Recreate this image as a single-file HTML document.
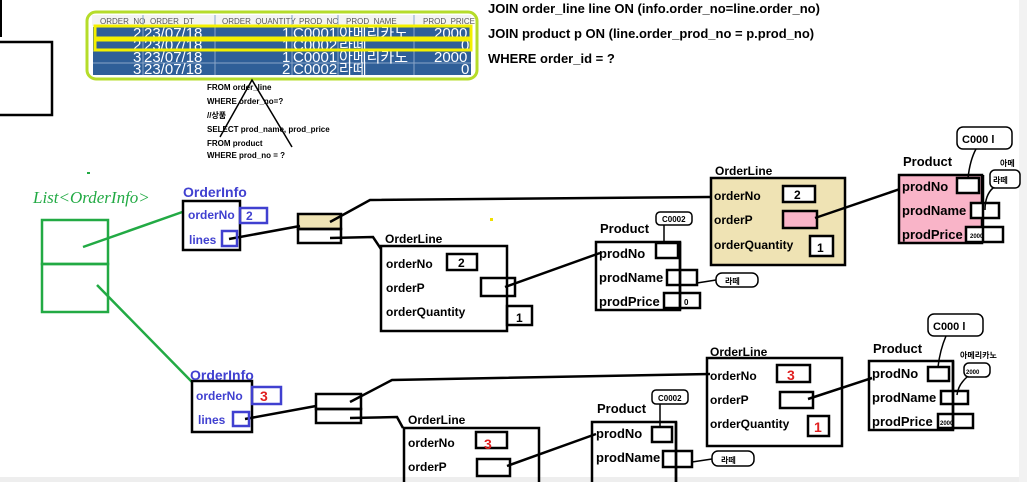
<!DOCTYPE html>
<html><head><meta charset="utf-8"><style>
html,body{margin:0;padding:0;background:#fff;width:1027px;height:482px;overflow:hidden}
svg{display:block}
text{font-family:"Liberation Sans","Noto Sans CJK KR",sans-serif}
.b{font-weight:bold;font-size:13px;fill:#000}
.b2{font-weight:bold;font-size:12px;fill:#000}
.bl{font-weight:bold;font-size:12px;fill:#4040d0}
.s{font-weight:bold;font-size:8px;fill:#000}
.h{font-size:8px;fill:#555}
.r{font-size:15px;fill:#fff;font-family:"Liberation Mono","Noto Sans CJK KR",monospace}
</style></head><body>
<svg width="1027" height="482" viewBox="0 0 1027 482" xmlns="http://www.w3.org/2000/svg">
<rect x="1019" y="0" width="8" height="482" fill="#f2f2f2"/>
<rect x="0" y="477" width="1019" height="5" fill="#eeeeee"/>
<line x1="1" y1="0" x2="1" y2="37" stroke="#000" stroke-width="2"/>
<rect x="-5" y="42" width="57" height="73" fill="none" stroke="#000" stroke-width="2.5"/>

<!-- table -->
<rect x="87" y="12" width="390" height="67" rx="9" fill="#fff" stroke="#b5dc2a" stroke-width="3"/>
<rect x="92" y="15" width="379" height="11" fill="#f3f3f3"/>
<g class="h"><text x="100" y="24">ORDER_NO</text><text x="150" y="24">ORDER_DT</text><text x="222" y="24">ORDER_QUANTITY</text><text x="299" y="24">PROD_NO</text><text x="346" y="24">PROD_NAME</text><text x="423" y="24">PROD_PRICE</text></g>
<rect x="93" y="27" width="378" height="48" fill="#2f5f98"/>
<g stroke="#8aa6c8" stroke-width="1"><line x1="143" y1="15" x2="143" y2="75"/><line x1="215" y1="15" x2="215" y2="75"/><line x1="292" y1="15" x2="292" y2="75"/><line x1="338" y1="15" x2="338" y2="75"/><line x1="414" y1="15" x2="414" y2="75"/><line x1="93" y1="51" x2="471" y2="51"/><line x1="93" y1="63" x2="471" y2="63"/></g>
<g class="r"><text x="133" y="38">2</text><text x="144" y="38">23/07/18</text><text x="282" y="38">1</text><text x="293" y="38">C0001</text><text x="339" y="38">아메리카노</text><text x="434" y="38">2000</text>
<text x="133" y="50">2</text><text x="144" y="50">23/07/18</text><text x="282" y="50">1</text><text x="293" y="50">C0002</text><text x="339" y="50">라떼</text><text x="461" y="50">0</text>
<text x="133" y="62">3</text><text x="144" y="62">23/07/18</text><text x="282" y="62">1</text><text x="293" y="62">C0001</text><text x="339" y="62">아메리카노</text><text x="434" y="62">2000</text>
<text x="133" y="74">3</text><text x="144" y="74">23/07/18</text><text x="282" y="74">2</text><text x="293" y="74">C0002</text><text x="339" y="74">라떼</text><text x="461" y="74">0</text></g>
<rect x="95" y="26" width="376" height="12" fill="none" stroke="#f4f000" stroke-width="3"/>
<rect x="95" y="40" width="376" height="10" fill="none" stroke="#f4f000" stroke-width="3"/>

<g class="b"><text x="488" y="13">JOIN order_line line ON (info.order_no=line.order_no)</text><text x="488" y="38">JOIN product p ON (line.order_prod_no = p.prod_no)</text><text x="488" y="63">WHERE order_id = ?</text></g>
<g class="s"><text x="207" y="90">FROM order_line</text><text x="207" y="104">WHERE order_no=?</text><text x="207" y="118">//상품</text><text x="207" y="132">SELECT prod_name, prod_price</text><text x="207" y="146">FROM product</text><text x="207" y="158">WHERE prod_no = ?</text></g>
<path d="M220 137 L252 80 L292 147" fill="none" stroke="#000" stroke-width="1.5"/>

<!-- green list -->
<text x="33" y="203" style="font-size:17px;fill:#22aa44;font-style:italic;font-family:'Liberation Serif',serif">List&lt;OrderInfo&gt;</text>
<rect x="87" y="172" width="3" height="2" fill="#22aa44"/>
<rect x="42" y="220" width="66" height="44" fill="none" stroke="#22aa44" stroke-width="2.5"/>
<rect x="42" y="264" width="66" height="48" fill="none" stroke="#22aa44" stroke-width="2.5"/>
<line x1="83" y1="247" x2="188" y2="210" stroke="#22aa44" stroke-width="2.5"/>
<line x1="97" y1="285" x2="192" y2="382" stroke="#22aa44" stroke-width="2.5"/>

<g fill="none" stroke="#000" stroke-width="2.5">
<rect x="183" y="201" width="57" height="49" fill="#fff"/>
<rect x="298" y="214" width="43" height="15" fill="#efe3b4"/><rect x="298" y="229" width="43" height="14"/>
<polyline points="229,239 300,226"/><polyline points="330,222 370,200 710,197"/><polyline points="330,238 373,237 381,249"/>
<rect x="381" y="246" width="126" height="85"/>
<rect x="447" y="254" width="30" height="16"/><rect x="481" y="278" width="34" height="18"/><rect x="507" y="306" width="25" height="19"/>
<line x1="505" y1="287" x2="600" y2="253"/>
<rect x="596" y="242" width="84" height="68"/>
<rect x="656" y="243" width="22" height="15"/><rect x="667" y="270" width="30" height="15"/><rect x="664" y="293" width="36" height="15"/>
<line x1="680" y1="242" x2="680" y2="310"/>
<rect x="711" y="178" width="134" height="87" fill="#efe3b4"/>
<rect x="783" y="186" width="32" height="16" fill="#fff"/><rect x="783" y="211" width="34" height="17" fill="#f9b4c8"/><rect x="810" y="236" width="23" height="20" fill="#fff"/>
<line x1="815" y1="218" x2="900" y2="189"/>
<rect x="899" y="175" width="83" height="68" fill="#f9b4c8"/>
<rect x="957" y="178" width="22" height="15" fill="#fff"/><rect x="971" y="203" width="28" height="15" fill="#fff"/><rect x="966" y="227" width="37" height="15" fill="#fff"/>
<line x1="983" y1="175" x2="983" y2="243"/>

<rect x="192" y="381" width="60" height="51"/>
<rect x="316" y="394" width="45" height="15"/><rect x="316" y="409" width="45" height="14"/>
<polyline points="245,419 316,406"/><polyline points="350,402 392,380 710,374"/><polyline points="350,418 397,417 403,428"/>
<rect x="404" y="428" width="135" height="60"/>
<rect x="476" y="432" width="31" height="16"/><rect x="477" y="459" width="33" height="17"/>
<line x1="507" y1="466" x2="596" y2="434"/>
<rect x="592" y="422" width="84" height="70"/>
<rect x="652" y="427" width="20" height="15"/><rect x="663" y="451" width="29" height="16"/>
<line x1="676" y1="422" x2="676" y2="482"/>
<rect x="707" y="358" width="135" height="88"/>
<rect x="777" y="365" width="33" height="17"/><rect x="780" y="392" width="33" height="16"/><rect x="808" y="416" width="21" height="20"/>
<line x1="808" y1="399" x2="872" y2="378"/>
<rect x="869" y="361" width="84" height="69"/>
<rect x="928" y="367" width="21" height="14"/><rect x="941" y="391" width="27" height="13"/><rect x="938" y="414" width="35" height="14"/>
<line x1="953" y1="361" x2="953" y2="430"/>
</g>
<g fill="none" stroke="#4040d0" stroke-width="2.5">
<rect x="240" y="208" width="27" height="15"/><rect x="222" y="231" width="15" height="15"/>
<rect x="252" y="387" width="29" height="17"/><rect x="233" y="412" width="16" height="14"/>
</g>

<g fill="#fff" stroke="#000" stroke-width="1.5">
<rect x="656" y="212" width="36" height="13" rx="4"/><rect x="716" y="273" width="42" height="14" rx="6"/>
<rect x="957" y="127" width="55" height="22" rx="6"/><rect x="990" y="170" width="30" height="18" rx="5"/>
<rect x="652" y="390" width="36" height="14" rx="4"/><rect x="712" y="451" width="42" height="15" rx="6"/>
<rect x="928" y="314" width="55" height="22" rx="6"/><rect x="964" y="363" width="26" height="14" rx="5"/>
</g>
<g stroke="#000" stroke-width="1.5" fill="none">
<line x1="664" y1="225" x2="664" y2="243"/><line x1="697" y1="283" x2="716" y2="280"/>
<path d="M976 149 Q970 160 968 178"/><path d="M993 188 Q985 195 985 210"/>
<line x1="660" y1="404" x2="660" y2="427"/><line x1="692" y1="462" x2="712" y2="459"/>
<path d="M946 336 Q940 350 938 367"/><path d="M967 377 Q958 385 957 395"/>
</g>
<g style="font-size:8px;font-weight:bold" fill="#000"><text x="662" y="222">C0002</text><text x="725" y="284">라떼</text><text x="962" y="143" style="font-size:11px">C000 l</text><text x="993" y="183">라떼</text><text x="1000" y="166">아메</text>
<text x="658" y="401">C0002</text><text x="721" y="463">라떼</text><text x="933" y="330" style="font-size:11px">C000 l</text><text x="966" y="374" style="font-size:6px">2000</text><text x="960" y="358">아메리카노</text>
<text x="970" y="238" style="font-size:6px">2000</text><text x="940" y="425" style="font-size:6px">2000</text><text x="684" y="305">0</text></g>

<g class="b2">
<text x="385" y="243">OrderLine</text><text x="386" y="268">orderNo</text><text x="386" y="292">orderP</text><text x="386" y="316">orderQuantity</text>
<text x="458" y="267">2</text><text x="516" y="322">1</text>
<text x="715" y="175">OrderLine</text><text x="714" y="200">orderNo</text><text x="714" y="224">orderP</text><text x="714" y="249">orderQuantity</text>
<text x="794" y="199">2</text><text x="817" y="252">1</text>
<text x="408" y="424">OrderLine</text><text x="408" y="447">orderNo</text><text x="408" y="471">orderP</text>
<text x="710" y="356">OrderLine</text><text x="710" y="380">orderNo</text><text x="710" y="404">orderP</text><text x="710" y="428">orderQuantity</text>
</g>
<g class="b">
<text x="600" y="233">Product</text><text x="599" y="258">prodNo</text><text x="599" y="282">prodName</text><text x="599" y="306">prodPrice</text>
<text x="903" y="166">Product</text><text x="902" y="191">prodNo</text><text x="902" y="215">prodName</text><text x="902" y="239">prodPrice</text>
<text x="597" y="413">Product</text><text x="596" y="438">prodNo</text><text x="596" y="462">prodName</text>
<text x="873" y="353">Product</text><text x="872" y="378">prodNo</text><text x="872" y="402">prodName</text><text x="872" y="426">prodPrice</text>
</g>
<g style="font-weight:bold;font-size:14px" fill="#e02020"><text x="787" y="380">3</text><text x="814" y="432">1</text><text x="484" y="449">3</text><text x="260" y="401">3</text></g>
<g class="bl"><text x="183" y="197" style="font-size:14px">OrderInfo</text><text x="188" y="219">orderNo</text><text x="189" y="244">lines</text><text x="246" y="220">2</text>
<text x="190" y="380" style="font-size:14px">OrderInfo</text><text x="196" y="400">orderNo</text><text x="198" y="424">lines</text></g>
<rect x="490" y="218" width="3" height="3" fill="#f0e000"/>
</svg>
</body></html>
